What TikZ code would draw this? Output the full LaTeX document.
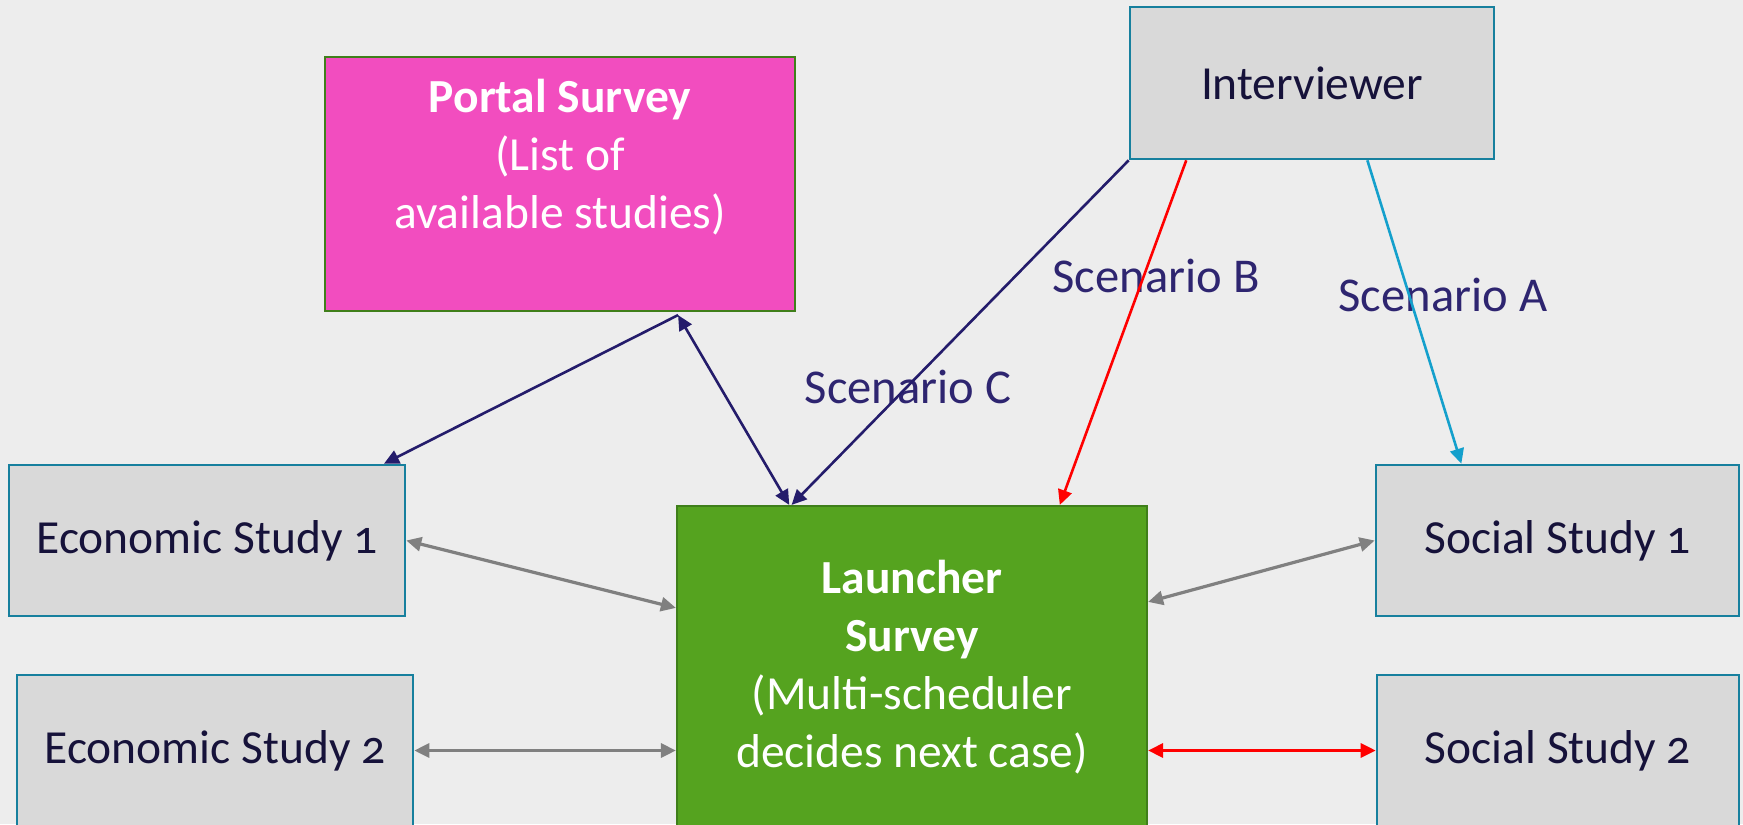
\documentclass[tikz,border=0pt]{standalone}
\usepackage{fontspec}
\setmainfont{Carlito}[Numbers=OldStyle]
\usetikzlibrary{arrows.meta,calc}
\definecolor{bgc}{HTML}{EDEDED}
\definecolor{pinkfill}{HTML}{F24DBF}
\definecolor{greenfill}{HTML}{55A31F}
\definecolor{greenline}{HTML}{3F7F1A}
\definecolor{grayfill}{HTML}{D9D9D9}
\definecolor{tealline}{HTML}{17809E}
\definecolor{navy}{HTML}{241C6B}
\definecolor{labelc}{HTML}{2E2570}
\definecolor{boxtext}{HTML}{16123A}
\definecolor{cyanc}{HTML}{14A0CC}
\definecolor{grayarrow}{HTML}{808080}
\definecolor{redc}{HTML}{FF0000}
\begin{document}
\begin{tikzpicture}[x=0.5pt,y=-0.5pt,
  txt/.style={font=\fontsize{23.75}{29}\selectfont},
  graybox/.style={draw=tealline,line width=1.3pt,fill=grayfill,inner sep=0pt,text=boxtext,txt},
  pinkbox/.style={draw=greenline,line width=1.1pt,fill=pinkfill,inner sep=0pt},
  greenbox/.style={draw=greenline,line width=1.1pt,fill=greenfill,inner sep=0pt},
  whitetxt/.style={txt,text=white,align=center},
  lbl/.style={txt,text=labelc,font=\fontsize{24.3}{29}\selectfont},
  navyarrow/.style={draw=navy,line width=1.3pt,-{Triangle[length=7.5pt,width=7pt]}},
  navydbl/.style={draw=navy,line width=1.3pt,{Triangle[length=7.5pt,width=7pt]}-{Triangle[length=7.5pt,width=7pt]}},
  grayarr/.style={draw=grayarrow,line width=1.6pt,{Triangle[length=7.5pt,width=7pt]}-{Triangle[length=7.5pt,width=7pt]}},
  redarr/.style={draw=redc,line width=1.3pt,-{Triangle[length=7.5pt,width=7pt]}},
  reddbl/.style={draw=redc,line width=1.6pt,{Triangle[length=7.5pt,width=7pt]}-{Triangle[length=7.5pt,width=7pt]}},
  cyanarr/.style={draw=cyanc,line width=1.3pt,-{Triangle[length=7.5pt,width=7pt]}}
]
\useasboundingbox (0,0) rectangle (1743,824);
\fill[bgc] (0,0) rectangle (1743,824);
\clip (0,0) rectangle (1743,824);

% boxes
\node[pinkbox,minimum width=235pt,minimum height=127pt] (portal) at (560,184) {};
\node[whitetxt] (portaltext) at (560,157) {\textbf{Portal Survey}\\(List of\\available studies)};
\node[graybox,minimum width=182pt,minimum height=76pt] (interviewer) at (1312,83) {Interviewer};
\node[graybox,minimum width=198pt,minimum height=75.5pt] (econ1) at (207,540.5) {Economic Study 1};
\node[graybox,minimum width=198pt,minimum height=75.5pt] (econ2) at (215,750.5) {Economic Study 2};
\node[greenbox,minimum width=235pt,minimum height=161pt] (launcher) at (912,667) {};
\node[whitetxt] (launchertext) at (912,667) {\textbf{Launcher}\\\textbf{Survey}\\(Multi-scheduler\\decides next case)};
\node[graybox,minimum width=181.5pt,minimum height=75.5pt] (social1) at (1557.5,540.5) {Social Study 1};
\node[graybox,minimum width=181pt,minimum height=75.5pt] (social2) at (1558,750.5) {Social Study 2};

% labels
\node[lbl] (lblB) at (1156,276) {Scenario B};
\node[lbl] (lblA) at (1443,295) {Scenario A};
\node[lbl] (lblC) at (908,387) {Scenario C};

% connectors
\coordinate (pbot) at ($(portal.south west)!0.75!(portal.south east)+(0,3)$);
\draw[navyarrow] (pbot) -- ($(econ1.north west)!0.944!(econ1.north east)$);
\draw[navydbl] (pbot) -- ($(launcher.north west)!0.24!(launcher.north east)$);
\draw[navyarrow] (interviewer.south west) -- ($(launcher.north west)!0.245!(launcher.north east)$);
\draw[redarr] ($(interviewer.south west)!0.157!(interviewer.south east)$) -- ($(launcher.north west)!0.813!(launcher.north east)$);
\draw[cyanarr] ($(interviewer.south west)!0.651!(interviewer.south east)$) -- ($(social1.north west)!0.237!(social1.north east)$);
\draw[grayarr] (econ1.east) -- ($(launcher.north west)+(0,103)$);
\draw[grayarr] (econ2.east) -- (econ2.east -| launcher.west);
\draw[grayarr] ($(launcher.north east)+(0,97)$) -- (social1.west);
\draw[reddbl] (social2.west -| launcher.east) -- (social2.west);
\end{tikzpicture}
\end{document}
